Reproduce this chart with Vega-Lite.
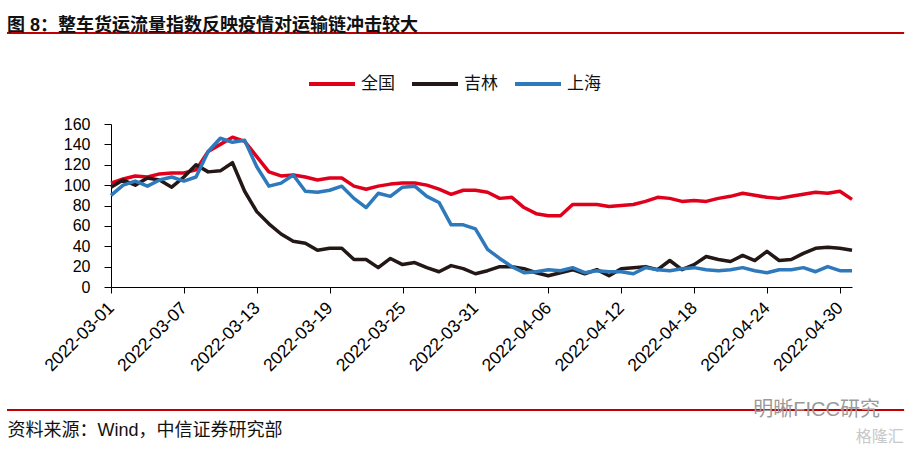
{
  "$schema": "https://vega.github.io/schema/vega-lite/v6.json",
  "autosize": {"type": "none"},
  "width": 741,
  "height": 163,
  "padding": {"left": 111, "top": 124, "right": 61, "bottom": 164},
  "background": "white",
  "title": {
    "text": "图 8：整车货运流量指数反映疫情对运输链冲击较大",
    "anchor": "start",
    "frame": "group",
    "dx": -104,
    "dy": 20,
    "offset": 3,
    "baseline": "alphabetic",
    "font": "Liberation Sans, Noto Sans CJK SC",
    "fontSize": 18,
    "fontWeight": "bold",
    "color": "#111111"
  },
  "config": {
    "view": {"stroke": null},
    "axis": {"domainColor": "black", "tickColor": "black", "labelColor": "black", "domainWidth": 1, "tickWidth": 1, "grid": false}
  },
  "resolve": {"axis": {"x": "independent", "y": "independent"}},
  "layer": [
    {
      "data": {"values": [
        {"date": "2022-03-01", "全国": 102, "吉林": 98, "上海": 90},
        {"date": "2022-03-02", "全国": 106, "吉林": 105, "上海": 100},
        {"date": "2022-03-03", "全国": 109, "吉林": 100, "上海": 104},
        {"date": "2022-03-04", "全国": 108, "吉林": 107, "上海": 99},
        {"date": "2022-03-05", "全国": 111, "吉林": 105, "上海": 105},
        {"date": "2022-03-06", "全国": 112, "吉林": 98, "上海": 108},
        {"date": "2022-03-07", "全国": 112, "吉林": 108, "上海": 104},
        {"date": "2022-03-08", "全国": 115, "吉林": 120, "上海": 108},
        {"date": "2022-03-09", "全国": 133, "吉林": 113, "上海": 133},
        {"date": "2022-03-10", "全国": 140, "吉林": 114, "上海": 146},
        {"date": "2022-03-11", "全国": 147, "吉林": 122, "上海": 142},
        {"date": "2022-03-12", "全国": 143, "吉林": 94, "上海": 144},
        {"date": "2022-03-13", "全国": 128, "吉林": 74, "上海": 118},
        {"date": "2022-03-14", "全国": 113, "吉林": 62, "上海": 99},
        {"date": "2022-03-15", "全国": 109, "吉林": 52, "上海": 102},
        {"date": "2022-03-16", "全国": 110, "吉林": 45, "上海": 110},
        {"date": "2022-03-17", "全国": 108, "吉林": 43, "上海": 94},
        {"date": "2022-03-18", "全国": 105, "吉林": 36, "上海": 93},
        {"date": "2022-03-19", "全国": 107, "吉林": 38, "上海": 95},
        {"date": "2022-03-20", "全国": 107, "吉林": 38, "上海": 99},
        {"date": "2022-03-21", "全国": 99, "吉林": 27, "上海": 87},
        {"date": "2022-03-22", "全国": 96, "吉林": 27, "上海": 78},
        {"date": "2022-03-23", "全国": 99, "吉林": 19, "上海": 92},
        {"date": "2022-03-24", "全国": 101, "吉林": 28, "上海": 89},
        {"date": "2022-03-25", "全国": 102, "吉林": 22, "上海": 98},
        {"date": "2022-03-26", "全国": 102, "吉林": 24, "上海": 99},
        {"date": "2022-03-27", "全国": 100, "吉林": 19, "上海": 89},
        {"date": "2022-03-28", "全国": 96, "吉林": 15, "上海": 83},
        {"date": "2022-03-29", "全国": 91, "吉林": 21, "上海": 61},
        {"date": "2022-03-30", "全国": 95, "吉林": 18, "上海": 61},
        {"date": "2022-03-31", "全国": 95, "吉林": 13, "上海": 57},
        {"date": "2022-04-01", "全国": 93, "吉林": 16, "上海": 37},
        {"date": "2022-04-02", "全国": 87, "吉林": 20, "上海": 28},
        {"date": "2022-04-03", "全国": 88, "吉林": 20, "上海": 20},
        {"date": "2022-04-04", "全国": 78, "吉林": 18, "上海": 14},
        {"date": "2022-04-05", "全国": 72, "吉林": 14, "上海": 15},
        {"date": "2022-04-06", "全国": 70, "吉林": 11, "上海": 17},
        {"date": "2022-04-07", "全国": 70, "吉林": 14, "上海": 16},
        {"date": "2022-04-08", "全国": 81, "吉林": 17, "上海": 19},
        {"date": "2022-04-09", "全国": 81, "吉林": 13, "上海": 14},
        {"date": "2022-04-10", "全国": 81, "吉林": 17, "上海": 16},
        {"date": "2022-04-11", "全国": 79, "吉林": 11, "上海": 15},
        {"date": "2022-04-12", "全国": 80, "吉林": 18, "上海": 15},
        {"date": "2022-04-13", "全国": 81, "吉林": 19, "上海": 13},
        {"date": "2022-04-14", "全国": 84, "吉林": 20, "上海": 19},
        {"date": "2022-04-15", "全国": 88, "吉林": 17, "上海": 17},
        {"date": "2022-04-16", "全国": 87, "吉林": 26, "上海": 16},
        {"date": "2022-04-17", "全国": 84, "吉林": 17, "上海": 18},
        {"date": "2022-04-18", "全国": 85, "吉林": 22, "上海": 19},
        {"date": "2022-04-19", "全国": 84, "吉林": 30, "上海": 17},
        {"date": "2022-04-20", "全国": 87, "吉林": 27, "上海": 16},
        {"date": "2022-04-21", "全国": 89, "吉林": 25, "上海": 17},
        {"date": "2022-04-22", "全国": 92, "吉林": 31, "上海": 19},
        {"date": "2022-04-23", "全国": 90, "吉林": 26, "上海": 16},
        {"date": "2022-04-24", "全国": 88, "吉林": 35, "上海": 14},
        {"date": "2022-04-25", "全国": 87, "吉林": 26, "上海": 17},
        {"date": "2022-04-26", "全国": 89, "吉林": 27, "上海": 17},
        {"date": "2022-04-27", "全国": 91, "吉林": 33, "上海": 19},
        {"date": "2022-04-28", "全国": 93, "吉林": 38, "上海": 15},
        {"date": "2022-04-29", "全国": 92, "吉林": 39, "上海": 20},
        {"date": "2022-04-30", "全国": 94, "吉林": 38, "上海": 16},
        {"date": "2022-05-01", "全国": 86, "吉林": 36, "上海": 16}
      ]},
      "transform": [{"fold": ["全国", "吉林", "上海"], "as": ["region", "value"]}],
      "mark": {"type": "line", "strokeWidth": 3.5, "strokeJoin": "round", "strokeCap": "butt"},
      "encoding": {
        "x": {
          "field": "date", "type": "temporal",
          "scale": {"type": "utc", "domain": [{"year": 2022, "month": 3, "date": 1, "utc": true}, {"year": 2022, "month": 5, "date": 1, "utc": true}], "nice": false},
          "axis": {
            "values": [
              {"year": 2022, "month": 3, "date": 1, "utc": true},
              {"year": 2022, "month": 3, "date": 7, "utc": true},
              {"year": 2022, "month": 3, "date": 13, "utc": true},
              {"year": 2022, "month": 3, "date": 19, "utc": true},
              {"year": 2022, "month": 3, "date": 25, "utc": true},
              {"year": 2022, "month": 3, "date": 31, "utc": true},
              {"year": 2022, "month": 4, "date": 6, "utc": true},
              {"year": 2022, "month": 4, "date": 12, "utc": true},
              {"year": 2022, "month": 4, "date": 18, "utc": true},
              {"year": 2022, "month": 4, "date": 24, "utc": true},
              {"year": 2022, "month": 4, "date": 30, "utc": true}
            ],
            "format": "%Y-%m-%d",
            "labelAngle": -45,
            "labelAlign": "right",
            "labelBaseline": "middle",
            "labelFont": "Liberation Sans",
            "labelFontSize": 17.5,
            "labelPadding": 12,
            "labelOverlap": false,
            "labelFlush": false,
            "labelBound": false,
            "tickSize": 6,
            "title": "资料来源：Wind，中信证券研究部",
            "titleX": -104,
            "titleY": 148,
            "titleAlign": "left",
            "titleAnchor": "start",
            "titleBaseline": "alphabetic",
            "titleAngle": 0,
            "titleFont": "Liberation Sans, Noto Sans CJK SC",
            "titleFontSize": 18,
            "titleFontWeight": "normal",
            "titleColor": "#111111"
          }
        },
        "y": {
          "field": "value", "type": "quantitative",
          "scale": {"domain": [0, 160], "nice": false, "zero": true},
          "axis": {
            "values": [0, 20, 40, 60, 80, 100, 120, 140, 160],
            "labelFont": "Liberation Sans",
            "labelFontSize": 16,
            "labelPadding": 14,
            "labelOverlap": false,
            "tickSize": 7,
            "title": null
          }
        },
        "color": {
          "field": "region", "type": "nominal",
          "scale": {"domain": ["全国", "吉林", "上海"], "range": ["#E0001B", "#231815", "#2E78BC"]},
          "legend": {
            "orient": "none",
            "legendX": 196,
            "legendY": -65,
            "direction": "horizontal",
            "title": null,
            "symbolType": "stroke",
            "symbolStrokeWidth": 4,
            "symbolSize": 2116,
            "labelFont": "Noto Sans CJK SC",
            "labelFontSize": 17,
            "labelColor": "#111111",
            "labelOffset": 4,
            "columnPadding": 9
          }
        }
      }
    },
    {
      "data": {"values": [{}]},
      "mark": {"type": "rule", "color": "#C00000", "strokeWidth": 2},
      "encoding": {
        "x": {"datum": {"year": 2022, "month": 2, "date": 20, "hours": 10, "minutes": 30, "utc": true}, "type": "temporal", "axis": null},
        "x2": {"datum": {"year": 2022, "month": 5, "date": 5, "hours": 7, "utc": true}},
        "y": {"datum": 249.3, "type": "quantitative", "axis": null}
      }
    },
    {
      "data": {"values": [{}]},
      "mark": {"type": "rule", "color": "#C00000", "strokeWidth": 2},
      "encoding": {
        "x": {"datum": {"year": 2022, "month": 2, "date": 20, "hours": 10, "minutes": 30, "utc": true}, "type": "temporal", "axis": null},
        "x2": {"datum": {"year": 2022, "month": 5, "date": 5, "hours": 7, "utc": true}},
        "y": {"datum": -120.7, "type": "quantitative", "axis": null}
      }
    },
    {
      "data": {"values": [{"t": "明晰FICC研究"}]},
      "mark": {"type": "text", "align": "center", "baseline": "middle", "font": "Liberation Sans, Noto Sans CJK SC", "fontSize": 20, "color": "#9a9a9a"},
      "encoding": {
        "x": {"datum": {"year": 2022, "month": 4, "date": 28, "hours": 2, "utc": true}, "type": "temporal", "axis": null},
        "y": {"datum": -120.7, "type": "quantitative", "axis": null},
        "text": {"field": "t"}
      }
    },
    {
      "data": {"values": [{"t": "格隆汇"}]},
      "mark": {"type": "text", "align": "center", "baseline": "middle", "font": "Noto Sans CJK SC", "fontSize": 16, "color": "#c8c8c8"},
      "encoding": {
        "x": {"datum": {"year": 2022, "month": 5, "date": 3, "hours": 7, "utc": true}, "type": "temporal", "axis": null},
        "y": {"datum": -147.2, "type": "quantitative", "axis": null},
        "text": {"field": "t"}
      }
    }
  ]
}
